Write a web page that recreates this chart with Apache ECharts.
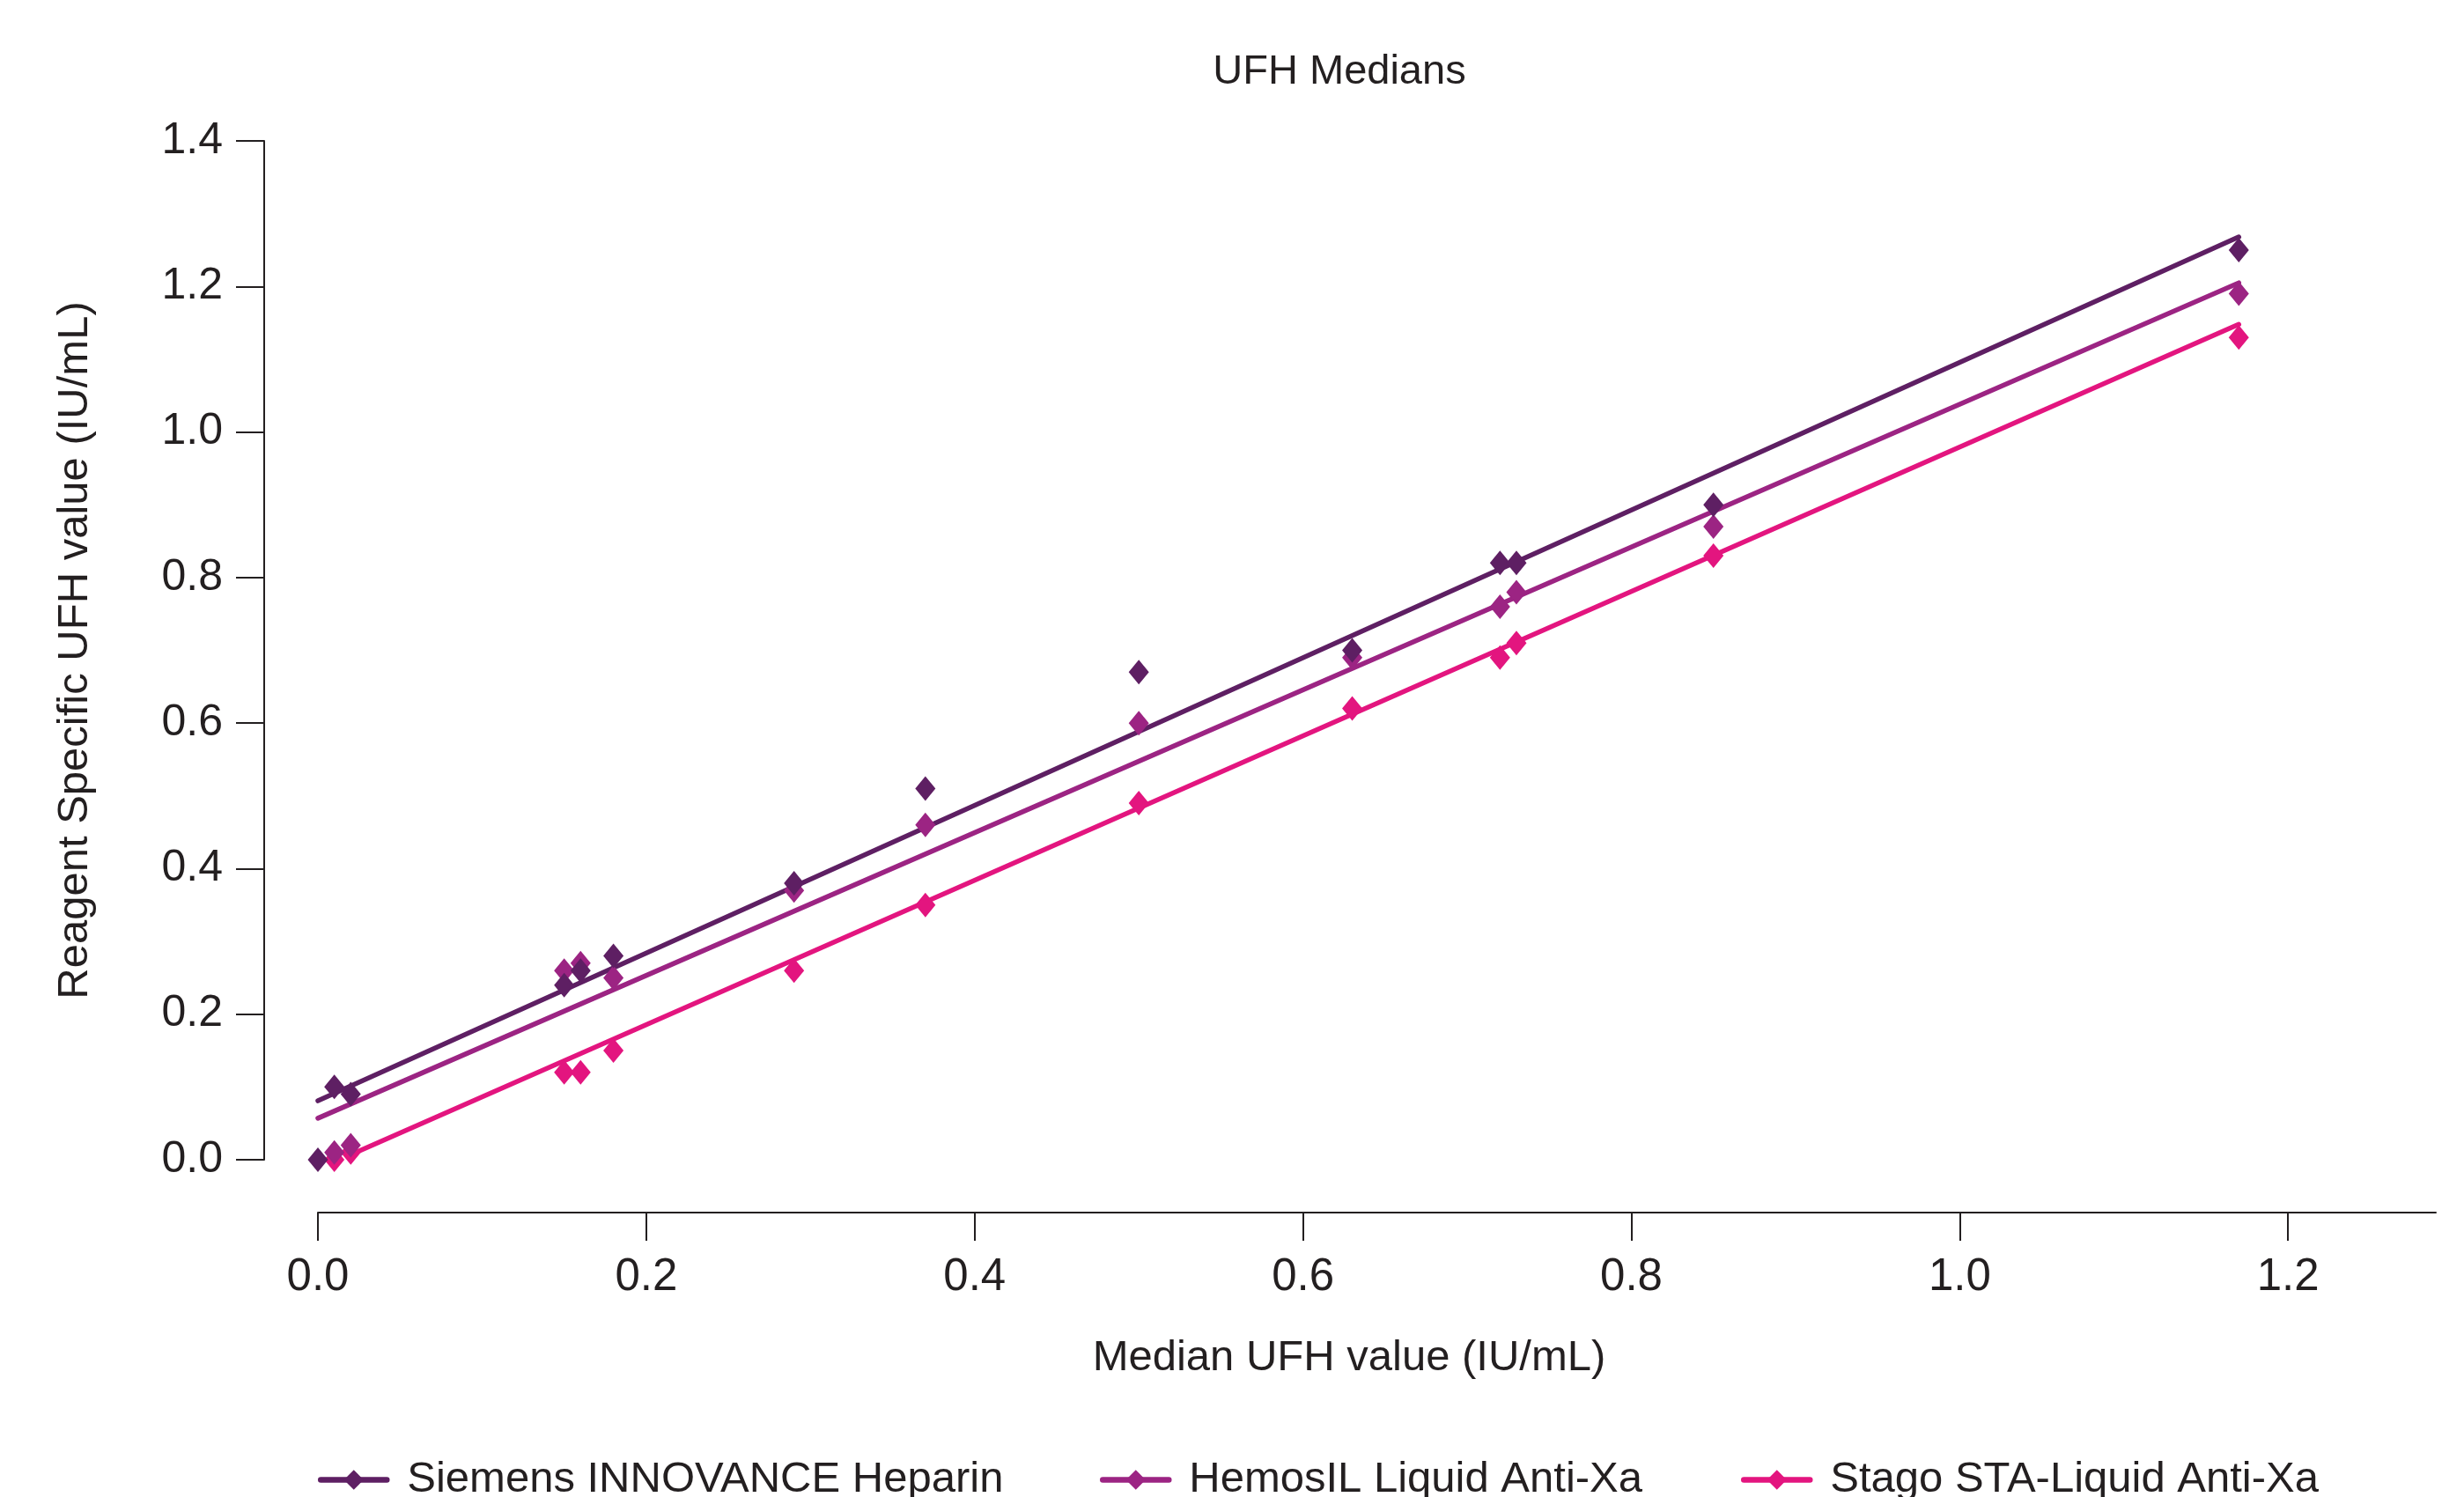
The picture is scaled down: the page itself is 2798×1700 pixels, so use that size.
<!DOCTYPE html>
<html>
<head>
<meta charset="utf-8">
<script src="https://cdn.jsdelivr.net/npm/echarts@6/dist/echarts.min.js"></script>
<style>
html,body{margin:0;padding:0;background:#ffffff;}
#chart{width:2798px;height:1700px;}
</style>
</head>
<body>
<div id="chart"></div>
<script>
// ---- data ----
const xValues       = [0.00, 0.01, 0.02, 0.15, 0.16, 0.18, 0.29, 0.37, 0.50, 0.63, 0.72, 0.73, 0.85, 1.17];
const siemensValues = [0.00, 0.10, 0.09, 0.24, 0.26, 0.28, 0.38, 0.51, 0.67, 0.70, 0.82, 0.82, 0.90, 1.25];
const hemosValues   = [null, 0.01, 0.02, 0.26, 0.27, 0.25, 0.37, 0.46, 0.60, 0.69, 0.76, 0.78, 0.87, 1.19];
const stagoValues   = [null, 0.00, 0.01, 0.12, 0.12, 0.15, 0.26, 0.35, 0.49, 0.62, 0.69, 0.71, 0.83, 1.13];

// fitted regression lines (start and end points)
const siemensFit = [[0.00, 0.081], [1.17, 1.268]];
const hemosFit   = [[0.00, 0.057], [1.17, 1.205]];
const stagoFit   = [[0.02, 0.007], [1.17, 1.148]];

const seriesNames = ['Siemens INNOVANCE Heparin', 'HemosIL Liquid Anti-Xa', 'Stago STA-Liquid Anti-Xa'];
const xTickValues = [0, 0.2, 0.4, 0.6, 0.8, 1.0, 1.2];
const yTickValues = [0, 0.2, 0.4, 0.6, 0.8, 1.0, 1.2, 1.4];

const chartTitle = 'UFH Medians';
const xAxisTitle = 'Median UFH value (IU/mL)';
const yAxisTitle = 'Reagent Specific UFH value (IU/mL)';

// ---- styles ----
const COLORS = ['#5e1f63', '#9c2483', '#e3157f'];
const INK = '#231f20';
const FONT = '"Liberation Sans", Arial, sans-serif';

function pairs(xs, ys) {
  const out = [];
  for (let i = 0; i < xs.length; i++) {
    if (ys[i] !== null && ys[i] !== undefined) out.push([xs[i], ys[i]]);
  }
  return out;
}

const fits = [siemensFit, hemosFit, stagoFit];
const points = [pairs(xValues, siemensValues), pairs(xValues, hemosValues), pairs(xValues, stagoValues)];

const lineSeries = fits.map((f, i) => ({
  type: 'line',
  name: seriesNames[i],
  data: f,
  symbol: 'diamond',
  showSymbol: false,
  silent: true,
  z: 2,
  lineStyle: { width: 5.5, color: COLORS[i], cap: 'round' },
  itemStyle: { color: COLORS[i] }
}));

// draw Stago first, Siemens last (on top)
const scatterSeries = [2, 1, 0].map(i => ({
  type: 'scatter',
  name: seriesNames[i],
  data: points[i],
  symbol: 'diamond',
  symbolSize: [23, 28],
  clip: false,
  z: 3,
  itemStyle: { color: COLORS[i], opacity: 1 }
}));

const legendLefts = [361, 1249, 1977];

const option = {
  animation: false,
  backgroundColor: '#ffffff',
  grid: { left: 361, right: 32, top: 160, bottom: 383, containLabel: false },
  graphic: [
    {
      type: 'text', x: 1521, y: 82,
      style: { text: chartTitle, fontSize: 47, fontFamily: FONT, fill: INK, align: 'center', verticalAlign: 'middle' }
    },
    {
      type: 'text', x: 1532, y: 1542,
      style: { text: xAxisTitle, fontSize: 49, fontFamily: FONT, fill: INK, align: 'center', verticalAlign: 'middle' }
    }
  ],
  legend: seriesNames.map((n, i) => ({
    data: [n],
    left: legendLefts[i],
    top: 1656,
    padding: 0,
    orient: 'horizontal',
    itemWidth: 75,
    itemHeight: 28,
    selectedMode: false,
    lineStyle: { width: 6.5 },
    textStyle: { fontSize: 49, fontFamily: FONT, color: INK, padding: [0, 0, 0, 18] }
  })),
  xAxis: {
    type: 'value',
    min: 0,
    max: 1.29,
    offset: 60,
    axisLine: { show: true, onZero: false, lineStyle: { color: INK, width: 2 } },
    axisTick: { show: true, length: 32, customValues: xTickValues, lineStyle: { color: INK, width: 2 } },
    axisLabel: {
      customValues: xTickValues,
      formatter: v => Number(v).toFixed(1),
      margin: 48, fontSize: 51, fontFamily: FONT, color: INK
    },
    splitLine: { show: false }
  },
  yAxis: {
    type: 'value',
    min: 0,
    max: 1.4,
    interval: 0.2,
    offset: 61,
    name: yAxisTitle,
    nameLocation: 'middle',
    nameGap: 190,
    nameTextStyle: { fontSize: 49, fontFamily: FONT, color: INK },
    axisLine: { show: true, onZero: false, lineStyle: { color: INK, width: 2 } },
    axisTick: { show: true, length: 32, customValues: yTickValues, lineStyle: { color: INK, width: 2 } },
    axisLabel: {
      customValues: yTickValues,
      formatter: v => Number(v).toFixed(1),
      margin: 47, fontSize: 50, fontFamily: FONT, color: INK
    },
    splitLine: { show: false }
  },
  series: lineSeries.concat(scatterSeries)
};

const chart = echarts.init(document.getElementById('chart'), null, { renderer: 'canvas' });
chart.setOption(option);
</script>
</body>
</html>
